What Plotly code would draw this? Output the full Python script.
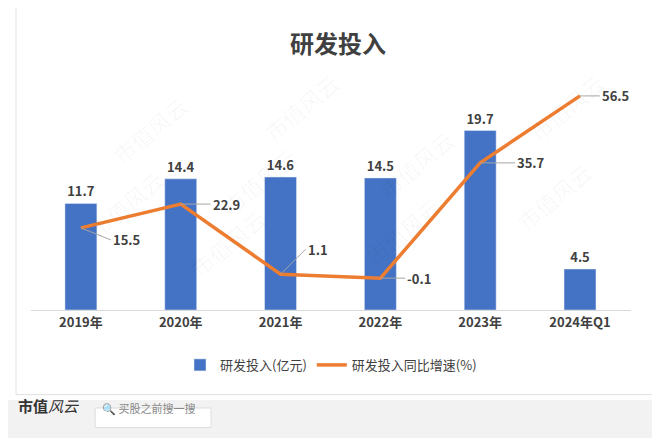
import plotly.graph_objects as go

years = ["2019年", "2020年", "2021年", "2022年", "2023年", "2024年Q1"]
rd_spend = [11.7, 14.4, 14.6, 14.5, 19.7, 4.5]
rd_growth = [15.5, 22.9, 1.1, -0.1, 35.7, 56.5]
# label offsets (px) for growth labels
growth_ax = [30, 30, 25, 25, 35, 20]
growth_ay = [12, 0, -25, 0, 0, 0]

fig = go.Figure()
fig.add_bar(x=years, y=rd_spend, name="研发投入(亿元)", marker_color="#4472C4", width=0.32,
            text=[f"<b>{v}</b>" for v in rd_spend], textposition="outside",
            textfont=dict(size=13, color="#404040"), cliponaxis=False)
fig.add_scatter(x=years, y=rd_growth, name="研发投入同比增速(%)", yaxis="y2", mode="lines",
                line=dict(color="#ED7D31", width=3.5))

for x, v, ax, ay in zip(years, rd_growth, growth_ax, growth_ay):
    fig.add_annotation(x=x, y=v, xref="x", yref="y2", text=f"<b>{v}</b>", ax=ax, ay=ay,
                       showarrow=True, arrowhead=0, arrowcolor="#A6A6A6", arrowwidth=1,
                       xanchor="left", font=dict(size=13, color="#404040"), standoff=0)

# watermarks
for wx, wy in [(0.12, 0.95), (0.45, 1.05), (0.97, 1.05), (0.08, 0.45), (0.38, 0.55), (0.72, 0.62),
               (0.25, 0.1), (0.62, 0.15), (0.95, 0.3)]:
    fig.add_annotation(x=wx, y=wy, xref="paper", yref="paper", text="市值风云", showarrow=False,
                       textangle=-40, font=dict(size=22, color="rgba(0,0,0,0.035)"))

# border and footer
fig.add_shape(type="rect", xref="paper", yref="paper", x0=-0.025, x1=1.045, y0=-0.36, y1=1.3,
              fillcolor="rgba(0,0,0,0)", line=dict(color="#E0E0E0", width=1))
fig.add_shape(type="rect", xref="paper", yref="paper", x0=-0.06, x1=1.08, y0=-0.6, y1=-0.383,
              fillcolor="#F2F2F2", line_width=0, layer="below")
fig.add_annotation(x=-0.025, y=-0.46, xref="paper", yref="paper", text="<b>市值</b><i>风云</i>",
                   showarrow=False, xanchor="left", font=dict(size=15, color="#333"))
fig.add_shape(type="rect", xref="paper", yref="paper", x0=0.107, x1=0.3, y0=-0.5, y1=-0.417,
              fillcolor="white", line=dict(color="#DDDDDD", width=1))
fig.add_annotation(x=0.115, y=-0.46, xref="paper", yref="paper", text="🔍 买股之前搜一搜",
                   showarrow=False, xanchor="left", font=dict(size=11, color="#888"))

fig.update_layout(
    width=660, height=438, paper_bgcolor="white", plot_bgcolor="white",
    font=dict(family="Noto Sans CJK SC", color="#404040"),
    margin=dict(l=23, r=37, t=67, b=136),
    title=dict(text="<b>研发投入</b>", x=0.5, y=0.935, xanchor="center", font=dict(size=24, color="#404040")),
    xaxis=dict(showline=True, linecolor="#D9D9D9", tickfont=dict(size=13, color="#404040"),
               ticks="", tickprefix="<b>", ticksuffix="</b>"),
    yaxis=dict(visible=False, range=[0, 25.8]),
    yaxis2=dict(visible=False, range=[-10, 63], overlaying="y"),
    showlegend=True,
    legend=dict(orientation="h", x=0.5, xanchor="center", y=-0.17, yanchor="top",
                font=dict(size=13, color="#404040")),
)
fig.write_html("out.html")
